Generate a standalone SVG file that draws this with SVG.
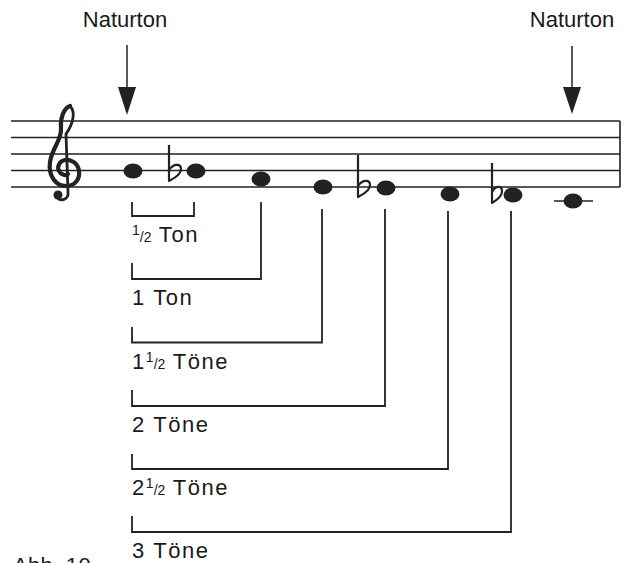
<svg xmlns="http://www.w3.org/2000/svg" width="633" height="563" viewBox="0 0 633 563">
<style>
  .txt { font-family: "Liberation Sans", Arial, sans-serif; font-size: 22px; fill: #1a1a1a; }
  .lbl { font-family: "Liberation Sans", Arial, sans-serif; font-size: 22px; fill: #1a1a1a; letter-spacing: 1.6px; }
  .fr { font-size: 14px; letter-spacing: 0; }
  .staff { stroke: #222; stroke-width: 1.6; fill: none; }
  .conn { stroke: #222; stroke-width: 1.8; fill: none; }
  .note { fill: #222; }
  .flat { stroke: #222; stroke-width: 2.2; fill: none; stroke-linejoin: round; }
</style>
<rect width="633" height="563" fill="#ffffff"/>

<g id="staff">
  <path class="staff" d="M11 121 H620 M11 137.5 H620 M11 154 H620 M11 170.5 H620 M11 187 H620 M620 121 V187"/>
  <g id="clef" fill="none" stroke="#222" stroke-linecap="round">
    <path stroke-width="4.2" d="M70 106 C64 108 60 118 61 128 C62 140 52 148 50 162 C48 176 56 186 66 186 C76 186 80 178 79 171 C78 163 71 159 65 160 C59 161 57 167 59 171 C61 175 66 176 68 174"/>
    <path stroke-width="2.8" d="M70 106 C76 112 73 124 66 134 L68 192 C69 200 60 202 57 197"/>
    <circle cx="58" cy="195" r="4.5" fill="#222" stroke="none"/>
  </g>
</g>

<g id="arrow-left">
  <text class="txt" x="125" y="27" text-anchor="middle">Naturton</text>
  <line x1="127" y1="45" x2="127" y2="89" stroke="#222" stroke-width="1.5"/>
  <polygon points="118,87 136,87 127,115" fill="#222"/>
</g>
<g id="arrow-right">
  <text class="txt" x="572" y="27" text-anchor="middle">Naturton</text>
  <line x1="572" y1="46" x2="572" y2="89" stroke="#222" stroke-width="1.5"/>
  <polygon points="563,87 581,87 572,114" fill="#222"/>
</g>

<g id="notes">
  <g id="n1"><ellipse class="note" cx="133" cy="171" rx="9.5" ry="7.5"/></g>
  <g id="n2"><path class="flat" d="M169 145 V181 C175 178 182 173 181 168 C180 163 173 164 169 170"/><ellipse class="note" cx="196" cy="171" rx="9.5" ry="7.5"/></g>
  <g id="n3"><ellipse class="note" cx="261" cy="179" rx="9.5" ry="7.5"/></g>
  <g id="n4"><ellipse class="note" cx="323" cy="187" rx="9.5" ry="7.5"/></g>
  <g id="n5"><path class="flat" d="M358 155 V197 C364 194 371 189 370 184 C369 179 362 180 358 186"/><ellipse class="note" cx="386" cy="188" rx="9.5" ry="7.5"/></g>
  <g id="n6"><ellipse class="note" cx="450" cy="194" rx="9.5" ry="7.5"/></g>
  <g id="n7"><path class="flat" d="M492 163 V203 C497 200 503 195 502 190 C501 185 495 186 492 192"/><ellipse class="note" cx="513" cy="195" rx="9.5" ry="7.5"/></g>
  <g id="n8"><line x1="554" y1="201" x2="593" y2="201" stroke="#222" stroke-width="1.6"/><ellipse class="note" cx="573" cy="201" rx="9.5" ry="7.5"/></g>
</g>

<g id="connectors">
  <path class="conn" d="M132 202 V216 H194 V202"/>
  <path class="conn" d="M132 263 V279 H261 V202"/>
  <path class="conn" d="M132 327 V342.5 H322 V209"/>
  <path class="conn" d="M132 390 V406 H385 V209"/>
  <path class="conn" d="M132 454 V469 H448 V211"/>
  <path class="conn" d="M132 516 V532 H511 V211"/>
</g>

<g id="labels">
  <text class="lbl" x="132" y="242"><tspan class="fr" dy="-7">1</tspan><tspan class="fr" dy="7">/2</tspan> Ton</text>
  <text class="lbl" x="132" y="305">1 Ton</text>
  <text class="lbl" x="132" y="368.5">1<tspan class="fr" dy="-7">1</tspan><tspan class="fr" dy="7">/2</tspan> Töne</text>
  <text class="lbl" x="132" y="432">2 Töne</text>
  <text class="lbl" x="132" y="495">2<tspan class="fr" dy="-7">1</tspan><tspan class="fr" dy="7">/2</tspan> Töne</text>
  <text class="lbl" x="132" y="558">3 Töne</text>
  <text class="lbl" x="13" y="573" style="letter-spacing:0.3px">Abb. 10</text>
</g>
</svg>
